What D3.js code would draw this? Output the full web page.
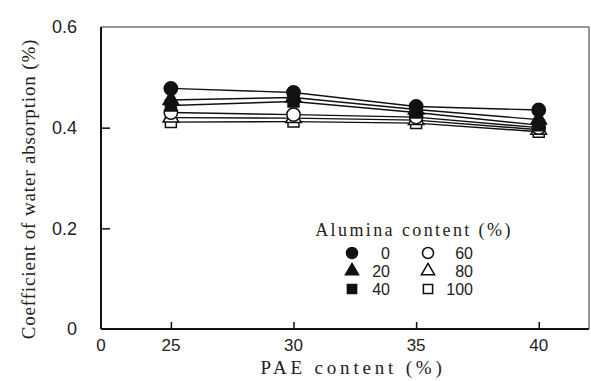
<!DOCTYPE html>
<html>
<head>
<meta charset="utf-8">
<script src="https://cdn.jsdelivr.net/npm/d3@7"></script>
<style>
  body { margin: 0; background: #fff; }
  svg { display: block; }
</style>
</head>
<body>
<div id="chart"></div>
<script>
// PAE content (%) on the x axis
const paeContent = [25, 30, 35, 40];
// alumina content (%) for each series
const aluminaLevels = [0, 20, 40, 60, 80, 100];
// coefficient of water absorption (%)
const absorption0 = [0.478, 0.470, 0.442, 0.435];
const absorption20 = [0.455, 0.460, 0.436, 0.416];
const absorption40 = [0.444, 0.452, 0.430, 0.405];
const absorption60 = [0.430, 0.426, 0.421, 0.400];
const absorption80 = [0.420, 0.419, 0.415, 0.396];
const absorption100 = [0.411, 0.412, 0.409, 0.392];
const yTicks = [0, 0.2, 0.4, 0.6];
const xTicks = [25, 30, 35, 40];

const seriesValues = [absorption0, absorption20, absorption40, absorption60, absorption80, absorption100];
const markerShapes = ['circle', 'triangle', 'square', 'circle', 'triangle', 'square'];
const markerFilled = [true, true, true, false, false, false];

const W = 591, H = 381;
const plotL = 101, plotR = 589, plotT = 27, plotB = 329;

const svg = d3.select('#chart').append('svg')
  .attr('width', W)
  .attr('height', H);

// x axis is broken: origin labelled 0, then 25..40
const x = d3.scaleLinear().domain([22.15, 42.05]).range([plotL, plotR]);
const y = d3.scaleLinear().domain([0, 0.6]).range([plotB, plotT]);

// thin top / right frame
svg.append('path')
  .attr('d', `M${plotL},${plotT}H${plotR}V${plotB}`)
  .attr('fill', 'none')
  .attr('stroke', '#333')
  .attr('stroke-width', 1);

// left axis
const yAxis = d3.axisLeft(y).tickValues(yTicks.filter(v => v > 0 && v < 0.6)).tickSize(-9).tickFormat('');
svg.append('g')
  .attr('transform', `translate(${plotL},0)`)
  .call(yAxis)
  .call(g => g.select('.domain').remove())
  .call(g => g.selectAll('line').attr('stroke', '#111').attr('stroke-width', 1.5));
svg.append('line')
  .attr('x1', plotL).attr('x2', plotL).attr('y1', plotT).attr('y2', plotB)
  .attr('stroke', '#111').attr('stroke-width', 2);

// bottom axis
const xAxis = d3.axisBottom(x).tickValues(xTicks).tickSize(-7).tickFormat('');
svg.append('g')
  .attr('transform', `translate(0,${plotB})`)
  .call(xAxis)
  .call(g => g.select('.domain').remove())
  .call(g => g.selectAll('line').attr('stroke', '#111').attr('stroke-width', 1.5));
svg.append('line')
  .attr('x1', plotL).attr('x2', plotR).attr('y1', plotB).attr('y2', plotB)
  .attr('stroke', '#111').attr('stroke-width', 2);

// tick labels
const tickFont = '"Liberation Sans", Arial, sans-serif';
svg.selectAll('.ylab')
  .data(yTicks)
  .enter().append('text')
  .attr('class', 'ylab')
  .attr('x', 77)
  .attr('y', d => y(d))
  .attr('dy', '0.36em')
  .attr('text-anchor', 'end')
  .attr('font-family', tickFont)
  .attr('font-size', 18)
  .attr('fill', '#222')
  .text(d => d === 0 ? '0' : d.toFixed(1));

svg.selectAll('.xlab')
  .data(xTicks)
  .enter().append('text')
  .attr('class', 'xlab')
  .attr('x', d => x(d))
  .attr('y', 351)
  .attr('text-anchor', 'middle')
  .attr('font-family', tickFont)
  .attr('font-size', 17)
  .attr('fill', '#222')
  .text(d => d);
svg.append('text')
  .attr('x', plotL)
  .attr('y', 351)
  .attr('text-anchor', 'middle')
  .attr('font-family', tickFont)
  .attr('font-size', 17)
  .attr('fill', '#222')
  .text('0');

// axis titles
const titleFont = '"Liberation Serif", "Times New Roman", serif';
svg.append('text')
  .attr('x', 353)
  .attr('y', 374)
  .attr('text-anchor', 'middle')
  .attr('font-family', titleFont)
  .attr('font-size', 19)
  .attr('letter-spacing', 3.8)
  .attr('fill', '#222')
  .text('PAE content (%)');
svg.append('text')
  .attr('transform', 'translate(35,189) rotate(-90)')
  .attr('text-anchor', 'middle')
  .attr('font-family', titleFont)
  .attr('font-size', 19)
  .attr('letter-spacing', 0.85)
  .attr('fill', '#222')
  .text('Coefficient of water absorption (%)');

// marker symbols
const symbolFor = {
  circle: d3.symbol(d3.symbolCircle, 140),
  triangle: d3.symbol(d3.symbolTriangle, 105),
  square: d3.symbol(d3.symbolSquare, 120)
};
const legendSymbol = {
  circle: d3.symbol(d3.symbolCircle, 95),
  triangle: d3.symbol(d3.symbolTriangle, 75),
  square: d3.symbol(d3.symbolSquare, 85)
};

const line = d3.line()
  .x((d, i) => x(paeContent[i]))
  .y(d => y(d));

const series = svg.selectAll('.series')
  .data(seriesValues)
  .enter().append('g')
  .attr('class', 'series');

series.append('path')
  .attr('d', d => line(d))
  .attr('fill', 'none')
  .attr('stroke', '#111')
  .attr('stroke-width', 1.4);

// draw open markers first so filled ones sit on top
const order = [5, 4, 3, 2, 1, 0];
order.forEach(si => {
  svg.selectAll(`.m${si}`)
    .data(seriesValues[si])
    .enter().append('path')
    .attr('class', `m${si}`)
    .attr('transform', (d, i) => `translate(${x(paeContent[i])},${y(d)})`)
    .attr('d', symbolFor[markerShapes[si]])
    .attr('fill', markerFilled[si] ? '#111' : '#fff')
    .attr('stroke', '#111')
    .attr('stroke-width', 1.5);
});

// legend
svg.append('text')
  .attr('x', 414)
  .attr('y', 236)
  .attr('text-anchor', 'middle')
  .attr('font-family', titleFont)
  .attr('font-size', 18)
  .attr('letter-spacing', 2.4)
  .attr('fill', '#222')
  .text('Alumina content (%)');

const legendRows = [253, 271, 289];
aluminaLevels.forEach((lvl, i) => {
  const col = i < 3 ? 0 : 1;
  const row = i % 3;
  const mx = col === 0 ? 352 : 428;
  const tx = col === 0 ? 390 : 473;
  const ly = legendRows[row];
  svg.append('path')
    .attr('transform', `translate(${mx},${ly})`)
    .attr('d', legendSymbol[markerShapes[i]])
    .attr('fill', markerFilled[i] ? '#111' : '#fff')
    .attr('stroke', '#111')
    .attr('stroke-width', 1.5);
  svg.append('text')
    .attr('x', tx)
    .attr('y', ly)
    .attr('dy', '0.36em')
    .attr('text-anchor', 'end')
    .attr('font-family', tickFont)
    .attr('font-size', 16)
    .attr('fill', '#222')
    .text(lvl);
});
</script>
</body>
</html>
